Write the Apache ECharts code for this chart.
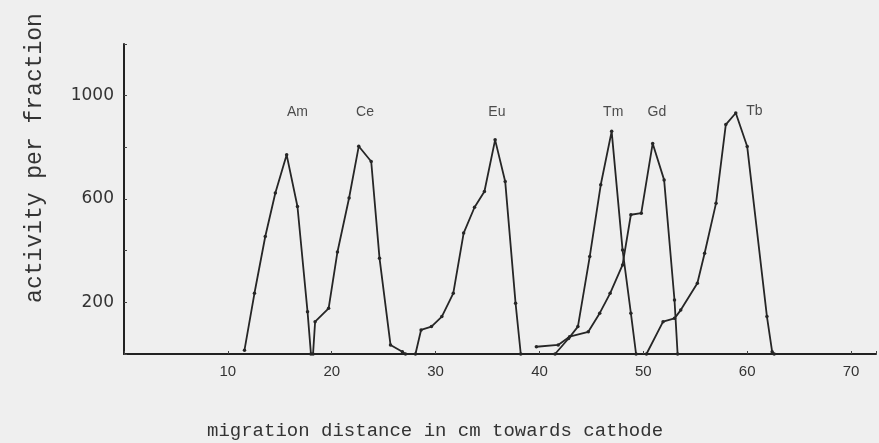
<!DOCTYPE html>
<html><head><meta charset="utf-8">
<script src="https://cdn.jsdelivr.net/npm/echarts@6/dist/echarts.min.js"></script>
<style>html,body{margin:0;padding:0;background:#efefef;}#c{width:879px;height:443px;}</style>
</head><body><div id="c"></div>
<script>
// x = migration distance (cm), y = activity per fraction
const am = [[11.6,15],[12.56,235],[13.6,455],[14.57,623],[15.66,771],[16.7,571],[17.67,164],[18.0,0]];
const ce = [[18.2,0],[18.4,125],[19.7,177],[20.55,395],[21.67,604],[22.6,804],[23.8,745],[24.6,371],[25.66,35],[26.8,9],[27.1,0]];
const eu = [[28.06,0],[28.6,93],[29.6,106],[30.6,145],[31.7,235],[32.7,468],[33.75,568],[34.7,629],[35.73,829],[36.7,668],[37.7,196],[38.2,0]];
const tm = [[41.5,0],[42.8,60],[43.7,106],[44.84,377],[45.9,655],[46.95,862],[48.0,403],[48.8,158],[49.3,0]];
const gd = [[39.7,28],[41.8,35],[42.9,67],[44.7,86],[45.8,158],[46.8,235],[48.0,345],[48.8,539],[49.8,545],[50.9,815],[52.0,674],[53.0,209],[53.3,0]];
const tb = [[50.3,0],[51.9,125],[53.0,138],[53.6,170],[55.2,274],[55.9,390],[57.0,584],[57.94,888],[58.9,933],[60.0,803],[61.9,145],[62.4,9],[62.6,0]];
const peakNames = ['Am','Ce','Eu','Tm','Gd','Tb'];
const peakLabelX = [16.7,23.2,35.9,47.1,51.3,60.7];
const peakLabelY = [936,936,936,936,936,940];
const yTickLabels = [200,600,1000];
const xTickLabels = [10,20,30,40,50,60,70];

const lineColor = '#262626';
function mk(name, data){
  return {name, type:'line', data, symbol:'circle', symbolSize:3.5,
    lineStyle:{color:lineColor,width:1.8}, itemStyle:{color:lineColor}, animation:false, z:3};
}
const chart = echarts.init(document.getElementById('c'));
chart.setOption({
  backgroundColor:'#efefef',
  animation:false,
  grid:{left:124,right:0,top:44,bottom:89},
  xAxis:{type:'value',min:0,max:72.4,interval:10,
    axisLine:{show:true,onZero:false,lineStyle:{color:'#222',width:2}},
    axisTick:{show:true,inside:true,length:3,lineStyle:{color:'#444'}},
    splitLine:{show:false},
    axisLabel:{margin:10,color:'#333',fontFamily:'Liberation Sans',fontSize:15,
      formatter:v=>xTickLabels.includes(v)?String(v):''}},
  yAxis:{type:'value',min:0,max:1200,interval:200,
    axisLine:{show:true,lineStyle:{color:'#222',width:2}},
    axisTick:{show:true,inside:true,length:3,lineStyle:{color:'#444'}},
    splitLine:{show:false},
    axisLabel:{margin:10,color:'#333',fontFamily:'DejaVu Sans',fontSize:17,
      formatter:v=>yTickLabels.includes(v)?String(v):''}},
  graphic:[
    {type:'text',left:207,top:421,style:{text:'migration distance in cm towards cathode',
      font:'19px "Liberation Mono"',fill:'#333'}},
    {type:'text',x:35,y:158,rotation:Math.PI/2,style:{text:'activity per fraction',
      font:'23px "Liberation Mono"',fill:'#333',textAlign:'center',textVerticalAlign:'middle'}}
  ],
  series:[mk('Am',am),mk('Ce',ce),mk('Eu',eu),mk('Tm',tm),mk('Gd',gd),mk('Tb',tb),
    {type:'scatter',symbol:'circle',symbolSize:1,silent:true,animation:false,
     itemStyle:{color:'rgba(0,0,0,0)'},
     data:peakNames.map((n,i)=>({value:[peakLabelX[i],peakLabelY[i]],name:n})),
     label:{show:true,position:'inside',formatter:p=>p.name,color:'#222',
       fontFamily:'Liberation Sans',fontSize:14}}]
});
</script></body></html>
